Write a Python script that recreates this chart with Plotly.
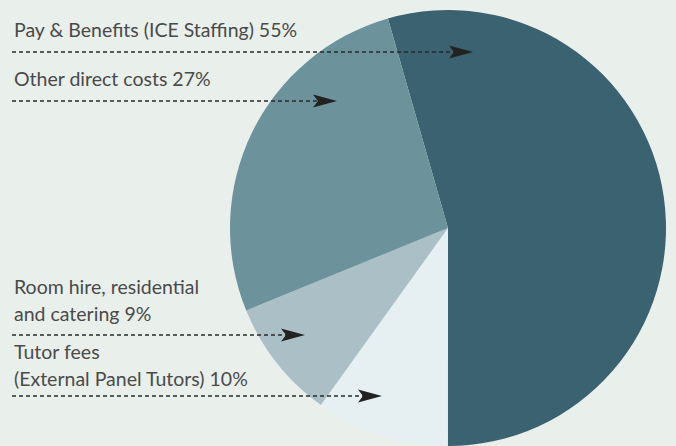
import plotly.graph_objects as go

# ---- data ----
categories = ["Pay & Benefits (ICE Staffing)", "Tutor fees (External Panel Tutors)",
              "Room hire, residential and catering", "Other direct costs"]
values = [55, 10, 9, 27]

# ---- styles ----
slice_colors = ["#3a6270", "#e6eff2", "#abbfc6", "#6c939c"]
bg = "#e9f0ec"
text_color = "#4a4a4a"
W, H = 676, 446

def px(x):
    return x / W

def py(y):
    return 1 - y / H

fig = go.Figure()
fig.add_trace(go.Pie(
    labels=categories, values=values, sort=False, direction="clockwise",
    rotation=-16, marker=dict(colors=slice_colors, line=dict(width=0)),
    textinfo="none", hoverinfo="label+percent", showlegend=False,
    domain=dict(x=[px(230), px(666)], y=[0, py(10)]),
))

# label lines: (text, x, baseline y)
label_lines = [
    ("Pay & Benefits (ICE Staffing) 55%", 12, 36),
    ("Other direct costs 27%", 12, 85),
    ("Room hire, residential", 12, 293),
    ("and catering 9%", 12, 320),
    ("Tutor fees", 12, 358),
    ("(External Panel Tutors) 10%", 12, 385),
]
annotations = []
for t, x, yb in label_lines:
    annotations.append(dict(
        text=t, x=px(x), y=py(yb - 6.5), xref="paper", yref="paper",
        xanchor="left", yanchor="middle", showarrow=False,
        font=dict(family="Lato", size=19.5, color=text_color),
    ))

# leader arrows: (start x, y, tip x)
arrows = [(12, 52, 473), (12, 101, 337), (12, 335, 305), (12, 396, 382)]
shapes = []
for x0, y, tip in arrows:
    shapes.append(dict(
        type="line", xref="paper", yref="paper",
        x0=px(x0), x1=px(tip - 18), y0=py(y), y1=py(y),
        line=dict(color="#2a2a2a", width=1.5, dash="4px,3px"),
    ))
    path = "M {},{} L {},{} L {},{} L {},{} Z".format(
        px(tip), py(y), px(tip - 24), py(y - 6.5), px(tip - 19), py(y),
        px(tip - 24), py(y + 6.5))
    shapes.append(dict(type="path", xref="paper", yref="paper", path=path,
                       fillcolor="#222222", line=dict(width=0)))

fig.update_layout(
    width=W, height=H, margin=dict(l=0, r=0, t=0, b=0),
    paper_bgcolor=bg, plot_bgcolor=bg,
    annotations=annotations, shapes=shapes,
)
fig.write_html("out.html")
